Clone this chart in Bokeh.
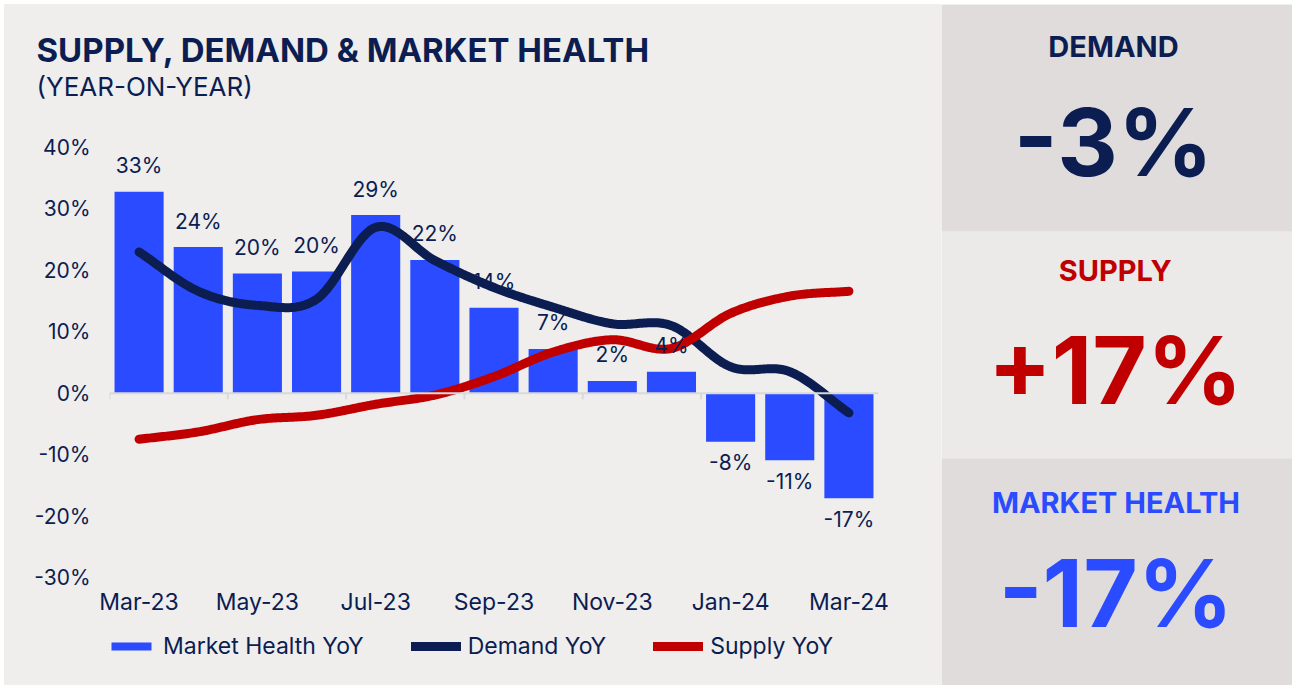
import numpy as np
from bokeh.plotting import figure
from bokeh.models import (Range1d, FixedTicker, PrintfTickFormatter, Span,
                          Legend, LegendItem, ColumnDataSource, Spacer)
from bokeh.layouts import row, column
from bokeh.embed import file_html
from bokeh.resources import INLINE
from bokeh.core.properties import value

# ---------------- data ----------------
months = ["Mar-23", "Apr-23", "May-23", "Jun-23", "Jul-23", "Aug-23", "Sep-23",
          "Oct-23", "Nov-23", "Dec-23", "Jan-24", "Feb-24", "Mar-24"]
market_health = [32.8, 23.8, 19.5, 19.8, 29.0, 21.7, 13.9, 7.2, 2.0, 3.5, -7.9, -10.9, -17.1]
demand = [23.0, 16.6, 14.3, 15.3, 27.0, 21.6, 17.2, 14.0, 11.3, 11.0, 4.3, 3.5, -3.2]
supply = [-7.5, -6.3, -4.3, -3.6, -1.8, -0.3, 2.7, 6.7, 8.7, 7.3, 13.0, 15.8, 16.6]
y_ticks = [-30, -20, -10, 0, 10, 20, 30, 40]
x_label_every = 2
series_names = ["Market Health YoY", "Demand YoY", "Supply YoY"]
kpi_names = ["DEMAND", "SUPPLY", "MARKET HEALTH"]
kpi_values = [demand[-1], supply[-1], market_health[-1]]
title_text = "SUPPLY, DEMAND & MARKET HEALTH"
subtitle_text = "(YEAR-ON-YEAR)"

# ---------------- style ----------------
FONT = "Inter"
NAVY = "#0b1d51"
BLUE = "#2a4bff"
RED = "#c00000"
BG = "#efeeed"
BOX_DARK = "#dfdcdb"
BOX_LIGHT = "#ebeae8"
AXIS_GRAY = "#d9d9d9"

W_L, W_R = 937, 351
H_HEAD, H_CHART, H_FOOT = 110, 506, 65


def smooth(ys, n=30):
    y = np.asarray(ys, dtype=float)
    m = np.empty_like(y)
    m[1:-1] = (y[2:] - y[:-2]) / 2.0
    m[0] = y[1] - y[0]
    m[-1] = y[-1] - y[-2]
    xs, out = [], []
    t = np.linspace(0, 1, n, endpoint=False)
    h00 = 2 * t**3 - 3 * t**2 + 1
    h10 = t**3 - 2 * t**2 + t
    h01 = -2 * t**3 + 3 * t**2
    h11 = t**3 - t**2
    for i in range(len(y) - 1):
        out.extend(h00 * y[i] + h10 * m[i] + h01 * y[i + 1] + h11 * m[i + 1])
        xs.extend(i + t)
    xs.append(len(y) - 1)
    out.append(y[-1])
    return xs, out


def blank(width, height, xr, yr):
    f = figure(width=width, height=height, x_range=xr, y_range=yr, title=None,
               output_backend="svg", toolbar_location=None, min_border=0,
               x_axis_location=None, y_axis_location=None,
               background_fill_color=BG, border_fill_color=BG, outline_line_color=None)
    f.grid.visible = False
    f.frame_align = False
    return f


# ---------------- header (title) ----------------
head = blank(W_L, H_HEAD, Range1d(0, W_L), Range1d(H_HEAD, 0))
head.text(x=[32], y=[45], text=[title_text], text_baseline="alphabetic",
          text_font=value(FONT), text_font_size="33px", text_font_style="bold",
          text_color=NAVY)
head.text(x=[32], y=[82], text=[subtitle_text], text_baseline="alphabetic",
          text_font=value(FONT), text_font_size="26px", text_color=NAVY)

# ---------------- chart ----------------
idx = list(range(len(months)))

p = figure(width=W_L, height=H_CHART, x_range=Range1d(-0.5, len(months) - 0.5),
           y_range=Range1d(y_ticks[0], y_ticks[-1]), title=None,
           output_backend="svg", toolbar_location=None,
           min_border_left=105, min_border_right=63, min_border_top=33, min_border_bottom=43,
           background_fill_color=BG, border_fill_color=BG, outline_line_color=None)
p.frame_align = False
p.xgrid.visible = False
p.ygrid.visible = False

# y axis
p.yaxis.ticker = FixedTicker(ticks=y_ticks)
p.yaxis.formatter = PrintfTickFormatter(format="%d%%")
p.yaxis.axis_line_color = None
p.yaxis.major_tick_line_color = None
p.yaxis.minor_tick_line_color = None
p.yaxis.major_tick_out = 0
p.yaxis.major_tick_in = 0
p.yaxis.minor_tick_out = 0
p.yaxis.major_label_standoff = 19
p.yaxis.major_label_text_font = FONT
p.yaxis.major_label_text_font_size = "21px"
p.yaxis.major_label_text_color = NAVY

# x axis (labels at the bottom)
label_pos = idx[::x_label_every]
p.xaxis.ticker = FixedTicker(ticks=label_pos)
p.xaxis.major_label_overrides = {i: months[i] for i in label_pos}
p.xaxis.axis_line_color = None
p.xaxis.major_tick_line_color = None
p.xaxis.minor_tick_line_color = None
p.xaxis.major_tick_out = 0
p.xaxis.major_tick_in = 0
p.xaxis.minor_tick_out = 0
p.xaxis.major_label_standoff = 10
p.xaxis.major_label_text_font = FONT
p.xaxis.major_label_text_font_size = "23px"
p.xaxis.major_label_text_color = NAVY

# zero line with boundary ticks
p.add_layout(Span(location=0, dimension="width", line_color=AXIS_GRAY, line_width=2))
bounds = [i - 0.5 for i in range(0, len(months) - 1, x_label_every)]
p.segment(x0=bounds, y0=[0] * len(bounds), x1=bounds, y1=[-1.0] * len(bounds),
          line_color=AXIS_GRAY, line_width=2)

# bars
p.vbar(x=idx, top=market_health, bottom=0, width=0.83, fill_color=BLUE, line_color=None)

# smoothed lines
dx, dy = smooth(demand)
sx, sy = smooth(supply)
p.line(dx, dy, line_color=NAVY, line_width=9, line_cap="round", line_join="round")
p.line(sx, sy, line_color=RED, line_width=9, line_cap="round", line_join="round")

# data labels
lab = ColumnDataSource(dict(
    x=idx, y=market_health,
    text=["%.0f%%" % v for v in market_health],
    off=[-26 if v >= 0 else 21 for v in market_health],
))
p.text(x="x", y="y", text="text", y_offset="off", source=lab,
       text_align="center", text_baseline="alphabetic",
       text_font=value(FONT), text_font_size="21px", text_color=NAVY)

# ---------------- footer (legend) ----------------
foot = blank(W_L, H_FOOT, Range1d(0, 1), Range1d(0, 1))
nan = [float("nan")]
r_bar = foot.vbar(x=nan, top=nan, width=0.8, fill_color=BLUE, line_color=None)
r_dem = foot.line(x=nan, y=nan, line_color=NAVY, line_width=9, line_cap="round")
r_sup = foot.line(x=nan, y=nan, line_color=RED, line_width=9, line_cap="round")
legend = Legend(items=[LegendItem(label=series_names[0], renderers=[r_bar]),
                       LegendItem(label=series_names[1], renderers=[r_dem]),
                       LegendItem(label=series_names[2], renderers=[r_sup])],
                orientation="horizontal", location=(102, 25),
                glyph_width=50, glyph_height=10, label_standoff=7, spacing=47,
                padding=0, margin=0, background_fill_alpha=0, border_line_color=None,
                label_text_font=FONT, label_text_font_size="23px", label_text_color=NAVY,
                label_height=20)
foot.add_layout(legend)

# ---------------- KPI panel ----------------
q = blank(W_R, H_HEAD + H_CHART + H_FOOT, Range1d(0, 1), Range1d(0, 3))
q.quad(left=0, right=1, bottom=[2, 1, 0], top=[3, 2, 1],
       fill_color=[BOX_DARK, BOX_LIGHT, BOX_DARK], line_color=None)

kpi = ColumnDataSource(dict(
    x=[0.49, 0.495, 0.497], y=[3, 2, 1],
    name=kpi_names,
    val=["%+.0f%%" % v for v in kpi_values],
    color=[NAVY, RED, BLUE],
    off1=[42, 39, 44],
    off2=[137, 138, 134],
))
q.text(x="x", y="y", text="name", y_offset="off1", source=kpi,
       text_align="center", text_baseline="alphabetic",
       text_font=value(FONT), text_font_size="29px", text_font_style="bold",
       text_color="color")
q.text(x="x", y="y", text="val", y_offset="off2", source=kpi,
       text_align="center", text_baseline="alphabetic",
       text_font=value(FONT), text_font_size="94px", text_font_style="bold",
       text_color="color")

left = column(head, p, foot, styles={"background-color": BG})
layout = column(Spacer(height=4),
                row(Spacer(width=4), left, q))
open("out.html", "w").write(file_html(layout, INLINE))
